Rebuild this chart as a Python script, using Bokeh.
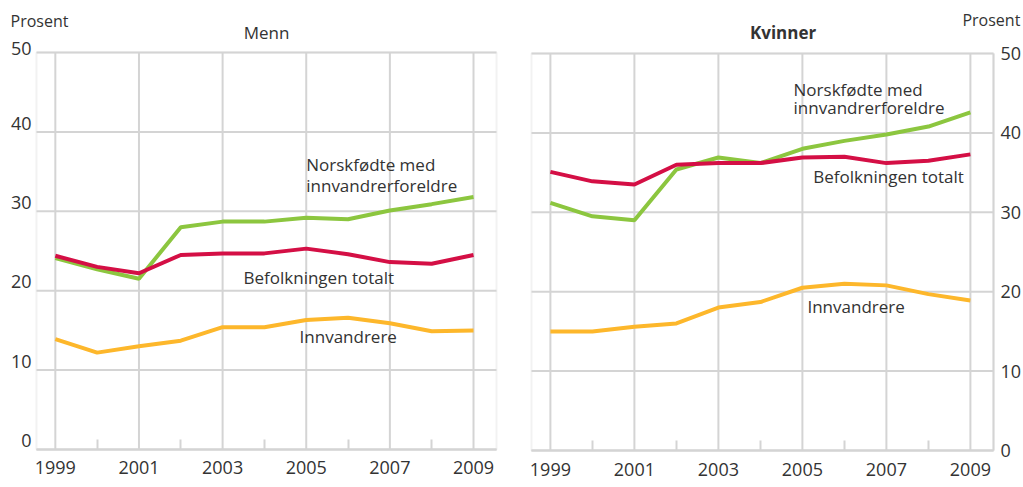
from bokeh.plotting import figure
from bokeh.layouts import row
from bokeh.models import (FixedTicker, CustomJSTickFormatter, Label, Range1d,
                          ColumnDataSource, BoxAnnotation)
from bokeh.embed import file_html
from bokeh.resources import INLINE

years = [1999, 2000, 2001, 2002, 2003, 2004, 2005, 2006, 2007, 2008, 2009]
odd_years = [1999, 2001, 2003, 2005, 2007, 2009]
even_years = [2000, 2002, 2004, 2006, 2008]
y_ticks = [0, 10, 20, 30, 40, 50]

menn_norskfodte = [24.1, 22.7, 21.5, 28.0, 28.7, 28.7, 29.2, 29.0, 30.1, 30.9, 31.8]
menn_totalt = [24.4, 23.0, 22.2, 24.5, 24.7, 24.7, 25.3, 24.6, 23.6, 23.4, 24.5]
menn_innvandrere = [13.9, 12.2, 13.0, 13.7, 15.4, 15.4, 16.3, 16.6, 15.9, 14.9, 15.0]

kvinner_norskfodte = [31.2, 29.5, 29.0, 35.4, 36.9, 36.2, 38.0, 39.0, 39.8, 40.8, 42.6]
kvinner_totalt = [35.1, 33.9, 33.5, 36.0, 36.2, 36.2, 36.9, 37.0, 36.2, 36.5, 37.3]
kvinner_innvandrere = [15.0, 15.0, 15.6, 16.0, 18.0, 18.7, 20.5, 21.0, 20.8, 19.7, 18.9]

GREEN = "#8cc63f"
RED = "#d40f45"
YELLOW = "#fdb72b"
GRID = "#d4d4d4"
TEXT = "#333333"
FONT = "Open Sans"

X0, X1 = 1998.55, 2009.55   # panel frame in data units
Y0, Y1 = 0, 50


def make_panel(side, norsk, totalt, innv):
    if side == "left":
        p = figure(width=515, height=484, output_backend="svg", toolbar_location=None,
                   x_range=Range1d(1997.689, 2010.004), y_range=Range1d(-4.41, 56.55),
                   min_border=0, y_axis_location="left")
    else:
        p = figure(width=506, height=484, output_backend="svg", toolbar_location=None,
                   x_range=Range1d(1998.169, 2010.217), y_range=Range1d(-4.28, 56.68),
                   min_border=0, y_axis_location="right")
    p.background_fill_color = "white"
    p.border_fill_color = "white"
    p.outline_line_color = None
    p.grid.visible = False

    # grid lines of the panel
    hsrc = ColumnDataSource(dict(y=y_ticks, x0=[X0] * len(y_ticks), x1=[X1] * len(y_ticks)))
    p.segment(x0="x0", x1="x1", y0="y", y1="y", source=hsrc, line_color=GRID, line_width=2)
    vsrc = ColumnDataSource(dict(x=odd_years, y0=[Y0] * len(odd_years), y1=[Y1] * len(odd_years)))
    p.segment(x0="x", x1="x", y0="y0", y1="y1", source=vsrc, line_color=GRID, line_width=2)
    p.add_layout(BoxAnnotation(left=X0, right=X1, bottom=Y0, top=Y1, fill_alpha=0,
                               line_color=GRID, line_width=2, level="underlay"))

    # x axis
    xa = p.xaxis[0]
    xa.fixed_location = Y0
    xa.bounds = (X0, X1)
    xa.ticker = FixedTicker(ticks=odd_years, minor_ticks=even_years)
    xa.major_tick_in = 0
    xa.major_tick_out = 0
    xa.minor_tick_in = 10
    xa.minor_tick_out = 0
    xa.minor_tick_line_color = GRID
    xa.minor_tick_line_width = 2
    xa.axis_line_color = GRID
    xa.axis_line_width = 2
    xa.major_label_standoff = 12
    xa.major_label_text_font = FONT
    xa.major_label_text_font_size = "18px"
    xa.major_label_text_color = TEXT

    # y axis
    ya = p.yaxis[0]
    if side == "left":
        ya.fixed_location = X0
        ya.bounds = (Y0, Y1 + 1)
        # labels sit just above their gridlines
        ya.ticker = FixedTicker(ticks=[v + 1.1 for v in y_ticks[:-1]] + [y_ticks[-1] + 0.45])
        ya.formatter = CustomJSTickFormatter(code="return String(Math.floor(tick/10)*10)")
        ya.major_label_standoff = 5
        ya.axis_line_color = None
    else:
        ya.fixed_location = X1
        ya.bounds = (Y0, Y1)
        ya.ticker = FixedTicker(ticks=y_ticks)
        ya.major_label_standoff = 7
        ya.axis_line_color = GRID
        ya.axis_line_width = 2
    ya.major_tick_in = 0
    ya.major_tick_out = 0
    ya.minor_tick_line_color = None
    ya.major_label_text_font = FONT
    ya.major_label_text_font_size = "18px"
    ya.major_label_text_color = TEXT

    src = ColumnDataSource(dict(year=years, norsk=norsk, totalt=totalt, innv=innv))
    p.line("year", "norsk", source=src, line_color=GREEN, line_width=4)
    p.line("year", "innv", source=src, line_color=YELLOW, line_width=4)
    p.line("year", "totalt", source=src, line_color=RED, line_width=4)
    return p


def add_label(p, x, y, text, align="left", bold=False, size="17px"):
    p.add_layout(Label(x=x, y=y, text=text, text_font=FONT, text_font_size=size,
                       text_color=TEXT, text_align=align, text_baseline="middle",
                       text_font_style="bold" if bold else "normal"))


p1 = make_panel("left", menn_norskfodte, menn_totalt, menn_innvandrere)
add_label(p1, 1997.93, 54.0, "Prosent", size="16px")
add_label(p1, 2004.05, 52.5, "Menn", align="center")
add_label(p1, 2005.0, 35.9, "Norskfødte med")
add_label(p1, 2005.0, 33.3, "innvandrerforeldre")
add_label(p1, 2003.5, 21.7, "Befolkningen totalt")
add_label(p1, 2004.84, 14.2, "Innvandrere")

p2 = make_panel("right", kvinner_norskfodte, kvinner_totalt, kvinner_innvandrere)
add_label(p2, 2010.19, 54.2, "Prosent", align="right", size="16px")
add_label(p2, 2004.54, 52.6, "Kvinner", align="center", bold=True)
add_label(p2, 2004.79, 45.5, "Norskfødte med")
add_label(p2, 2004.79, 43.2, "innvandrerforeldre")
add_label(p2, 2005.26, 34.5, "Befolkningen totalt")
add_label(p2, 2005.12, 18.1, "Innvandrere")

layout = row(p1, p2)
open("out.html", "w").write(file_html(layout, INLINE))
